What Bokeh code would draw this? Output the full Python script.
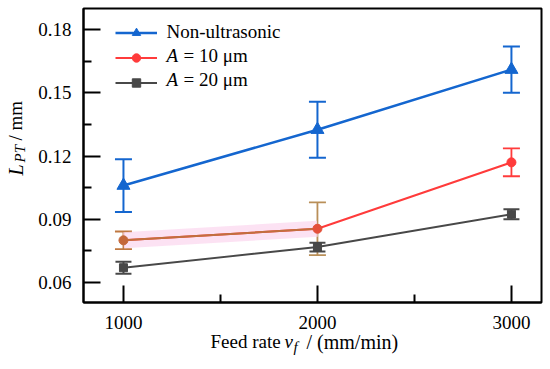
import math
from bokeh.plotting import figure
from bokeh.models import (ColumnDataSource, Whisker, TeeHead, FixedTicker, NumeralTickFormatter,
                          Range1d, Legend, LegendItem, Label, LinearAxis)
from bokeh.embed import file_html
from bokeh.resources import INLINE

# ---- data ----
feed_rate = [1000, 2000, 3000]
non_ultrasonic = [0.106, 0.1325, 0.161]
non_ultrasonic_err = [0.0125, 0.0133, 0.011]
a10 = [0.0800, 0.0855, 0.117]
a10_err = [0.0042, 0.0125, 0.0066]
a20 = [0.0670, 0.0768, 0.0924]
a20_err = [0.0028, 0.0021, 0.0024]

series_names = ["Non-ultrasonic", "A = 10 μm", "A = 20 μm"]

x_ticks = [1000, 2000, 3000]
x_minor = [1500, 2500]
y_ticks = [0.06, 0.09, 0.12, 0.15, 0.18]
y_minor = [0.075, 0.105, 0.135, 0.165]

# visible axis ranges
XMIN, XMAX = 794, 3155
YMIN, YMAX = 0.0505, 0.19

# layout (pixels): canvas size and plot box
W, H = 545, 362
BOX_L, BOX_R, BOX_T, BOX_B = 83, 541, 8, 302
DY = 8  # label baseline correction

FONT = "Liberation Serif"
BLUE = "#1466cf"
RED = "#ff3b3b"
GRAY = "#484848"

# extend ranges so that the frame fills the canvas (titles are then not clipped)
sx = (BOX_R - BOX_L) / (XMAX - XMIN)
sy = (BOX_B - BOX_T) / (YMAX - YMIN)
xr = Range1d(XMIN - BOX_L / sx, XMAX + (W - BOX_R) / sx)
yr = Range1d(YMIN - (H - BOX_B) / sy, YMAX + BOX_T / sy)

p = figure(width=W, height=H, output_backend="svg", toolbar_location=None,
           x_range=xr, y_range=yr, x_axis_type=None, y_axis_type=None,
           min_border=0, min_border_left=0, min_border_right=0,
           min_border_top=0, min_border_bottom=0)
p.background_fill_color = "white"
p.border_fill_color = "white"
p.outline_line_color = None

xaxis = LinearAxis(fixed_location=YMIN, bounds=(XMIN, XMAX),
                   ticker=FixedTicker(ticks=x_ticks, minor_ticks=x_minor))
yaxis = LinearAxis(fixed_location=XMIN, bounds=(YMIN, YMAX),
                   ticker=FixedTicker(ticks=y_ticks, minor_ticks=y_minor),
                   formatter=NumeralTickFormatter(format="0.00"))
for ax in (xaxis, yaxis):
    ax.axis_line_width = 2
    ax.major_tick_line_width = 2
    ax.minor_tick_line_width = 2
    ax.major_tick_in = 17
    ax.major_tick_out = 0
    ax.minor_tick_in = 8
    ax.minor_tick_out = 0
    ax.major_label_text_font = FONT
    ax.major_label_text_font_size = "19px"
    ax.major_label_text_color = "black"
xaxis.major_label_standoff = 13
yaxis.major_label_standoff = 12
p.add_layout(xaxis, "below")
p.add_layout(yaxis, "left")

# plot box
p.quad(left=[XMIN], right=[XMAX], bottom=[YMIN], top=[YMAX], fill_color=None,
       line_color="black", line_width=2)

def band(vals, err):
    return [v + e for v, e in zip(vals, err)], [v - e for v, e in zip(vals, err)]

# pink halo artifact around the A = 10 um segment
p.line(feed_rate[:2], a10[:2], line_color="#fbd5ee", line_width=16, line_alpha=0.7)

# Non-ultrasonic
up, lo = band(non_ultrasonic, non_ultrasonic_err)
src_b = ColumnDataSource(dict(x=feed_rate, y=non_ultrasonic, up=up, lo=lo))
p.add_layout(Whisker(source=src_b, base="x", upper="up", lower="lo", line_color=BLUE, line_width=2,
                     upper_head=TeeHead(size=17, line_color=BLUE, line_width=2),
                     lower_head=TeeHead(size=17, line_color=BLUE, line_width=2)))
lb = p.line("x", "y", source=src_b, line_color=BLUE, line_width=2.5)
sb = p.scatter("x", "y", source=src_b, marker="triangle", size=13, fill_color=BLUE, line_color=BLUE)

# A = 10 um
up, lo = band(a10, a10_err)
src_r = ColumnDataSource(dict(x=feed_rate, y=a10, up=up, lo=lo,
                              c=["#c07840", "#b98f58", RED], m=["#c4683a", "#e4503a", RED]))
lr = p.line("x", "y", source=src_r, line_color=RED, line_width=2)
p.line(feed_rate[:2], a10[:2], line_color="#c0703f", line_width=2)
p.add_layout(Whisker(source=src_r, base="x", upper="up", lower="lo", line_color="c", line_width=1.8,
                     upper_head=TeeHead(size=17, line_color="c", line_width=1.8),
                     lower_head=TeeHead(size=17, line_color="c", line_width=1.8)))
sr = p.scatter("x", "y", source=src_r, marker="circle", size=9, fill_color="m", line_color="m")

# A = 20 um
up, lo = band(a20, a20_err)
src_g = ColumnDataSource(dict(x=feed_rate, y=a20, up=up, lo=lo))
lg = p.line("x", "y", source=src_g, line_color=GRAY, line_width=2)
p.add_layout(Whisker(source=src_g, base="x", upper="up", lower="lo", line_color=GRAY, line_width=2,
                     upper_head=TeeHead(size=16, line_color=GRAY, line_width=2),
                     lower_head=TeeHead(size=16, line_color=GRAY, line_width=2)))
sg = p.scatter("x", "y", source=src_g, marker="square", size=8, fill_color=GRAY, line_color=GRAY)

# legend: glyph samples from Bokeh's Legend, texts drawn as labels (italic "A")
legend = Legend(items=[
    LegendItem(label=" ", renderers=[lb, sb]),
    LegendItem(label=" ", renderers=[lr, sr], index=2),
    LegendItem(label=" ", renderers=[lg, sg]),
], location=(BOX_L + 32, (H - BOX_B) + 209), margin=0, padding=5, spacing=4,
    glyph_width=42, glyph_height=21, label_height=21, label_standoff=8,
    label_text_font=FONT, label_text_font_size="19px",
    border_line_color=None, background_fill_alpha=0)
p.add_layout(legend, "center")

def lab(text, x, y, size="19px", style="normal", angle=0.0):
    # screen units: measured from the canvas bottom-left
    p.add_layout(Label(x=x, y=y, x_units="screen", y_units="screen", text=text,
                       text_font=FONT, text_font_size=size, text_font_style=style,
                       text_color="black", angle=angle, text_align="left",
                       text_baseline="alphabetic"))

# legend texts
lab(series_names[0], 166, H - 39 + DY)
for i, name in enumerate(series_names[1:], start=1):
    head, rest = name.split(" ", 1)
    lab(head, 166, H - 39 - 24 * i + DY, style="italic")
    lab(rest, 183, H - 39 - 24 * i + DY)

# axis titles (mixed styles)
lab("Feed rate", 210, H - 349 + DY)
lab("v", 284, H - 349 + DY, style="italic")
lab("f", 293, H - 354 + DY, size="15px", style="italic")
lab("/ (mm/min)", 306, H - 349 + DY, size="20px")

rot = math.pi / 2
lab("L", 23 - DY, H - 175, size="20px", style="italic", angle=rot)
lab("PT", 27 - DY, H - 162, size="15px", style="italic", angle=rot)
lab("/ mm", 23 - DY, H - 140, angle=rot)

open("out.html", "w").write(file_html(p, INLINE))
